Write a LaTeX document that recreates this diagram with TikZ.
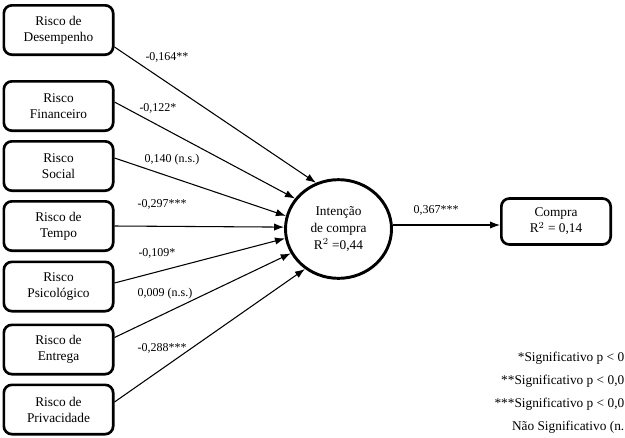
\documentclass[tikz,border=0pt]{standalone}
\usepackage{fontspec}
\setmainfont{Liberation Serif}
\usetikzlibrary{shapes.geometric,arrows.meta,calc}
\begin{document}
\begin{tikzpicture}[x=0.75pt,y=-0.75pt,
  riskbox/.style={draw,line width=2pt,rounded corners=6pt,minimum width=82pt,minimum height=37pt,inner sep=0pt,align=center,font=\fontsize{10}{12}\selectfont},
  centerell/.style={draw,ellipse,line width=2.2pt,minimum width=79.5pt,minimum height=74pt,inner sep=0pt,align=center,font=\fontsize{10}{12.5}\selectfont},
  coef/.style={font=\fontsize{9}{11}\selectfont,inner sep=1pt},
  legend/.style={font=\fontsize{10}{12}\selectfont,anchor=east,inner sep=0pt},
  path/.style={line width=0.8pt,-{Latex[length=7.5pt,width=5.5pt]}}
]
\useasboundingbox (0,0) rectangle (625,437);
\node[riskbox] (des) at (58.5,30) {Risco de\\Desempenho};
\node[riskbox] (fin) at (58.5,106) {Risco\\Financeiro};
\node[riskbox] (soc) at (58.5,166) {Risco\\Social};
\node[riskbox] (tem) at (58.5,226) {Risco de\\Tempo};
\node[riskbox] (psi) at (58.5,286.5) {Risco\\Psicológico};
\node[riskbox] (ent) at (58.5,349.5) {Risco de\\Entrega};
\node[riskbox] (pri) at (58.5,409.5) {Risco de\\Privacidade};
\node[centerell] (int) at (338.5,229) {Intenção\\de compra\\R$^{2}$ =0,44};
\node[riskbox,minimum height=34.5pt] (com) at (556,221.5) {Compra\\R$^{2}$ = 0,14};

\draw[path] ($(des.east)+(0,17)$) -- (int.116);
\draw[path] ($(fin.east)+(0,-4)$) -- (int.145);
\draw[path] ($(soc.east)+(0,-8)$) -- (int.166);
\draw[path] (tem.east) -- (int.178);
\draw[path] ($(psi.east)+(0,-3.5)$) -- (int.190);
\draw[path] ($(ent.east)+(0,-12)$) -- (int.207);
\draw[path] ($(pri.east)+(0,-7.5)$) -- (int.230);
\draw[path] (int.east |- 0,225) -- (com.west |- 0,225);

\node[coef] (c1) at (167,57) {-0,164**};
\node[coef] (c2) at (158,108) {-0,122*};
\node[coef] (c3) at (172,160) {0,140 (n.s.)};
\node[coef] (c4) at (162,204) {-0,297***};
\node[coef] (c5) at (157,253) {-0,109*};
\node[coef] (c6) at (165,294) {0,009 (n.s.)};
\node[coef] (c7) at (162,348) {-0,288***};
\node[coef] (c8) at (436,210) {0,367***};

\node[legend] (g1) at (624.5,358) {*Significativo p < 0};
\node[legend] (g2) at (624.5,381) {**Significativo p < 0,0};
\node[legend] (g3) at (624.5,404) {***Significativo p < 0,0};
\node[legend] (g4) at (624.5,427) {Não Significativo (n.};
\end{tikzpicture}
\end{document}
